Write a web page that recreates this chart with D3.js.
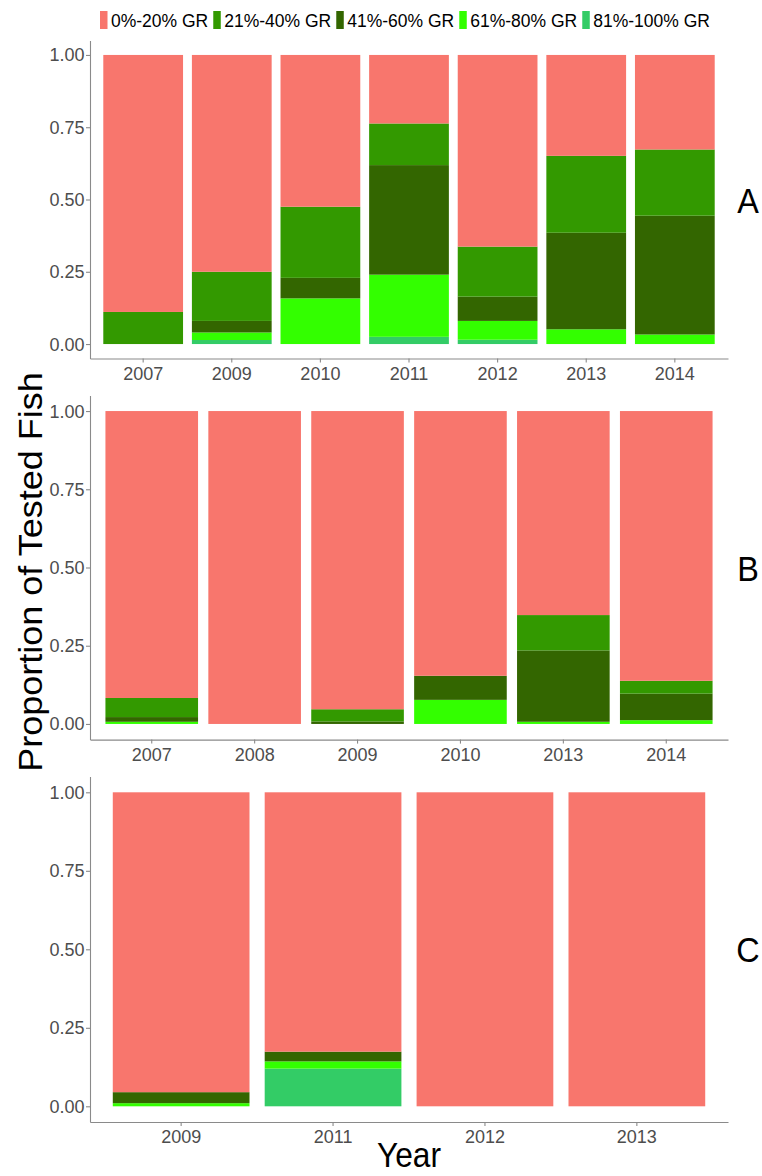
<!DOCTYPE html>
<html>
<head>
<meta charset="utf-8">
<script src="https://cdn.jsdelivr.net/npm/d3@7"></script>
<style>
  body { margin: 0; background: #fff; }
  text { font-family: "Liberation Sans", Arial, sans-serif; }
</style>
</head>
<body>
<div class="container"></div>
<script>
const w = 762;
const h = 1176;

// growth-rate classes and their colours
const classes = ['0%-20% GR', '21%-40% GR', '41%-60% GR', '61%-80% GR', '81%-100% GR'];
const colors = ['#F8766D', '#339900', '#336600', '#33FF00', '#33CC66'];
const yTicks = [0, 0.25, 0.5, 0.75, 1];

// panel A
const yearsA = ['2007', '2009', '2010', '2011', '2012', '2013', '2014'];
const a0to20 = [0.889, 0.750, 0.525, 0.237, 0.663, 0.349, 0.327];
const a21to40 = [0.111, 0.170, 0.246, 0.144, 0.173, 0.266, 0.229];
const a41to60 = [0, 0.040, 0.071, 0.379, 0.084, 0.334, 0.411];
const a61to80 = [0, 0.026, 0.158, 0.215, 0.065, 0.051, 0.033];
const a81to100 = [0, 0.014, 0, 0.025, 0.015, 0, 0];

// panel B
const yearsB = ['2007', '2008', '2009', '2010', '2013', '2014'];
const b0to20 = [0.917, 1, 0.953, 0.846, 0.652, 0.862];
const b21to40 = [0.061, 0, 0.039, 0, 0.113, 0.041];
const b41to60 = [0.015, 0, 0.008, 0.077, 0.228, 0.085];
const b61to80 = [0.007, 0, 0, 0.077, 0.007, 0.012];
const b81to100 = [0, 0, 0, 0, 0, 0];

// panel C
const yearsC = ['2009', '2011', '2012', '2013'];
const c0to20 = [0.955, 0.826, 1, 1];
const c21to40 = [0, 0, 0, 0];
const c41to60 = [0.035, 0.031, 0, 0];
const c61to80 = [0.010, 0.023, 0, 0];
const c81to100 = [0, 0.120, 0, 0];

const panels = [
  { tag: 'A', years: yearsA, series: [a0to20, a21to40, a41to60, a61to80, a81to100], top: 40.5, bottom: 358.5 },
  { tag: 'B', years: yearsB, series: [b0to20, b21to40, b41to60, b61to80, b81to100], top: 395.4, bottom: 739.6 },
  { tag: 'C', years: yearsC, series: [c0to20, c21to40, c41to60, c61to80, c81to100], top: 776.6, bottom: 1122 },
];

const left = 90;
const right = 728;
let svg = null;

window.onload = function () {
  svg = d3.select('.container').append('svg').attr('width', w).attr('height', h);
  panels.forEach(drawPanel);
  drawLegend();
  drawTitles();
};

// text, optionally a little narrower than the font like the big titles in the reference
function label(g, x, y, str, size, anchor, fill, sq = 1, rot = 0) {
  const tf = rot
    ? `translate(${x},${y}) rotate(${rot}) scale(1,${sq})`
    : `translate(${x},${y}) scale(${sq},1)`;
  return g.append('text')
    .attr('transform', tf)
    .attr('text-anchor', anchor)
    .attr('font-size', size)
    .attr('fill', fill)
    .text(str);
}

function drawPanel(p) {
  const x = d3.scaleBand().domain(p.years).range([left, right]).paddingInner(0.1).paddingOuter(0.15);
  const y = d3.scaleLinear().domain([-0.05, 1.05]).range([p.bottom, p.top]);

  const rows = p.years.map((yr, i) => {
    const r = { year: yr };
    classes.forEach((c, k) => { r[c] = p.series[k][i]; });
    return r;
  });
  // lowest class is stacked first (top of bar is 0%-20%)
  const stacked = d3.stack().keys(classes.slice().reverse())(rows);

  const g = svg.append('g');
  g.selectAll('g.layer')
    .data(stacked)
    .enter()
    .append('g')
    .attr('fill', (d) => colors[classes.indexOf(d.key)])
    .selectAll('rect')
    .data((d) => d)
    .enter()
    .append('rect')
    .attr('x', (d) => x(d.data.year))
    .attr('width', x.bandwidth())
    .attr('y', (d) => y(d[1]))
    .attr('height', (d) => Math.max(0, y(d[0]) - y(d[1])));

  const yAxis = g.append('g')
    .attr('transform', `translate(${left},0)`)
    .call(d3.axisLeft(y).tickValues(yTicks).tickFormat(d3.format('.2f')).tickSize(4).tickSizeOuter(0));
  const xAxis = g.append('g')
    .attr('transform', `translate(0,${p.bottom})`)
    .call(d3.axisBottom(x).tickSize(4).tickSizeOuter(0));

  [yAxis, xAxis].forEach((a) => {
    a.select('.domain').attr('stroke', '#8a8a8a').attr('stroke-width', 1.1);
    a.selectAll('.tick line').attr('stroke', '#8a8a8a').attr('stroke-width', 1.1);
    a.selectAll('.tick text').remove();
  });

  yTicks.forEach((t) => label(g, left - 5.5, y(t) + 6.5, d3.format('.2f')(t), 18, 'end', '#4D4D4D'));
  p.years.forEach((yr) => label(g, x(yr) + x.bandwidth() / 2, p.bottom + 21, yr, 18, 'middle', '#4D4D4D'));

  label(g, 748, (p.top + p.bottom) / 2 + 13, p.tag, 36, 'middle', '#000', 0.9);
}

function drawLegend() {
  const g = svg.append('g');
  let cx = 100;
  classes.forEach((c, i) => {
    g.append('rect').attr('x', cx).attr('y', 11).attr('width', 7.5).attr('height', 18).attr('fill', colors[i]);
    const t = label(g, cx + 11, 26.5, c, 17.5, 'start', '#000');
    cx += 11 + t.node().getComputedTextLength() + 5;
  });
}

function drawTitles() {
  label(svg, 42, 572, 'Proportion of Tested Fish', 36, 'middle', '#000', 0.92, -90);
  label(svg, (left + right) / 2, 1167, 'Year', 36, 'middle', '#000', 0.88);
}
</script>
</body>
</html>
